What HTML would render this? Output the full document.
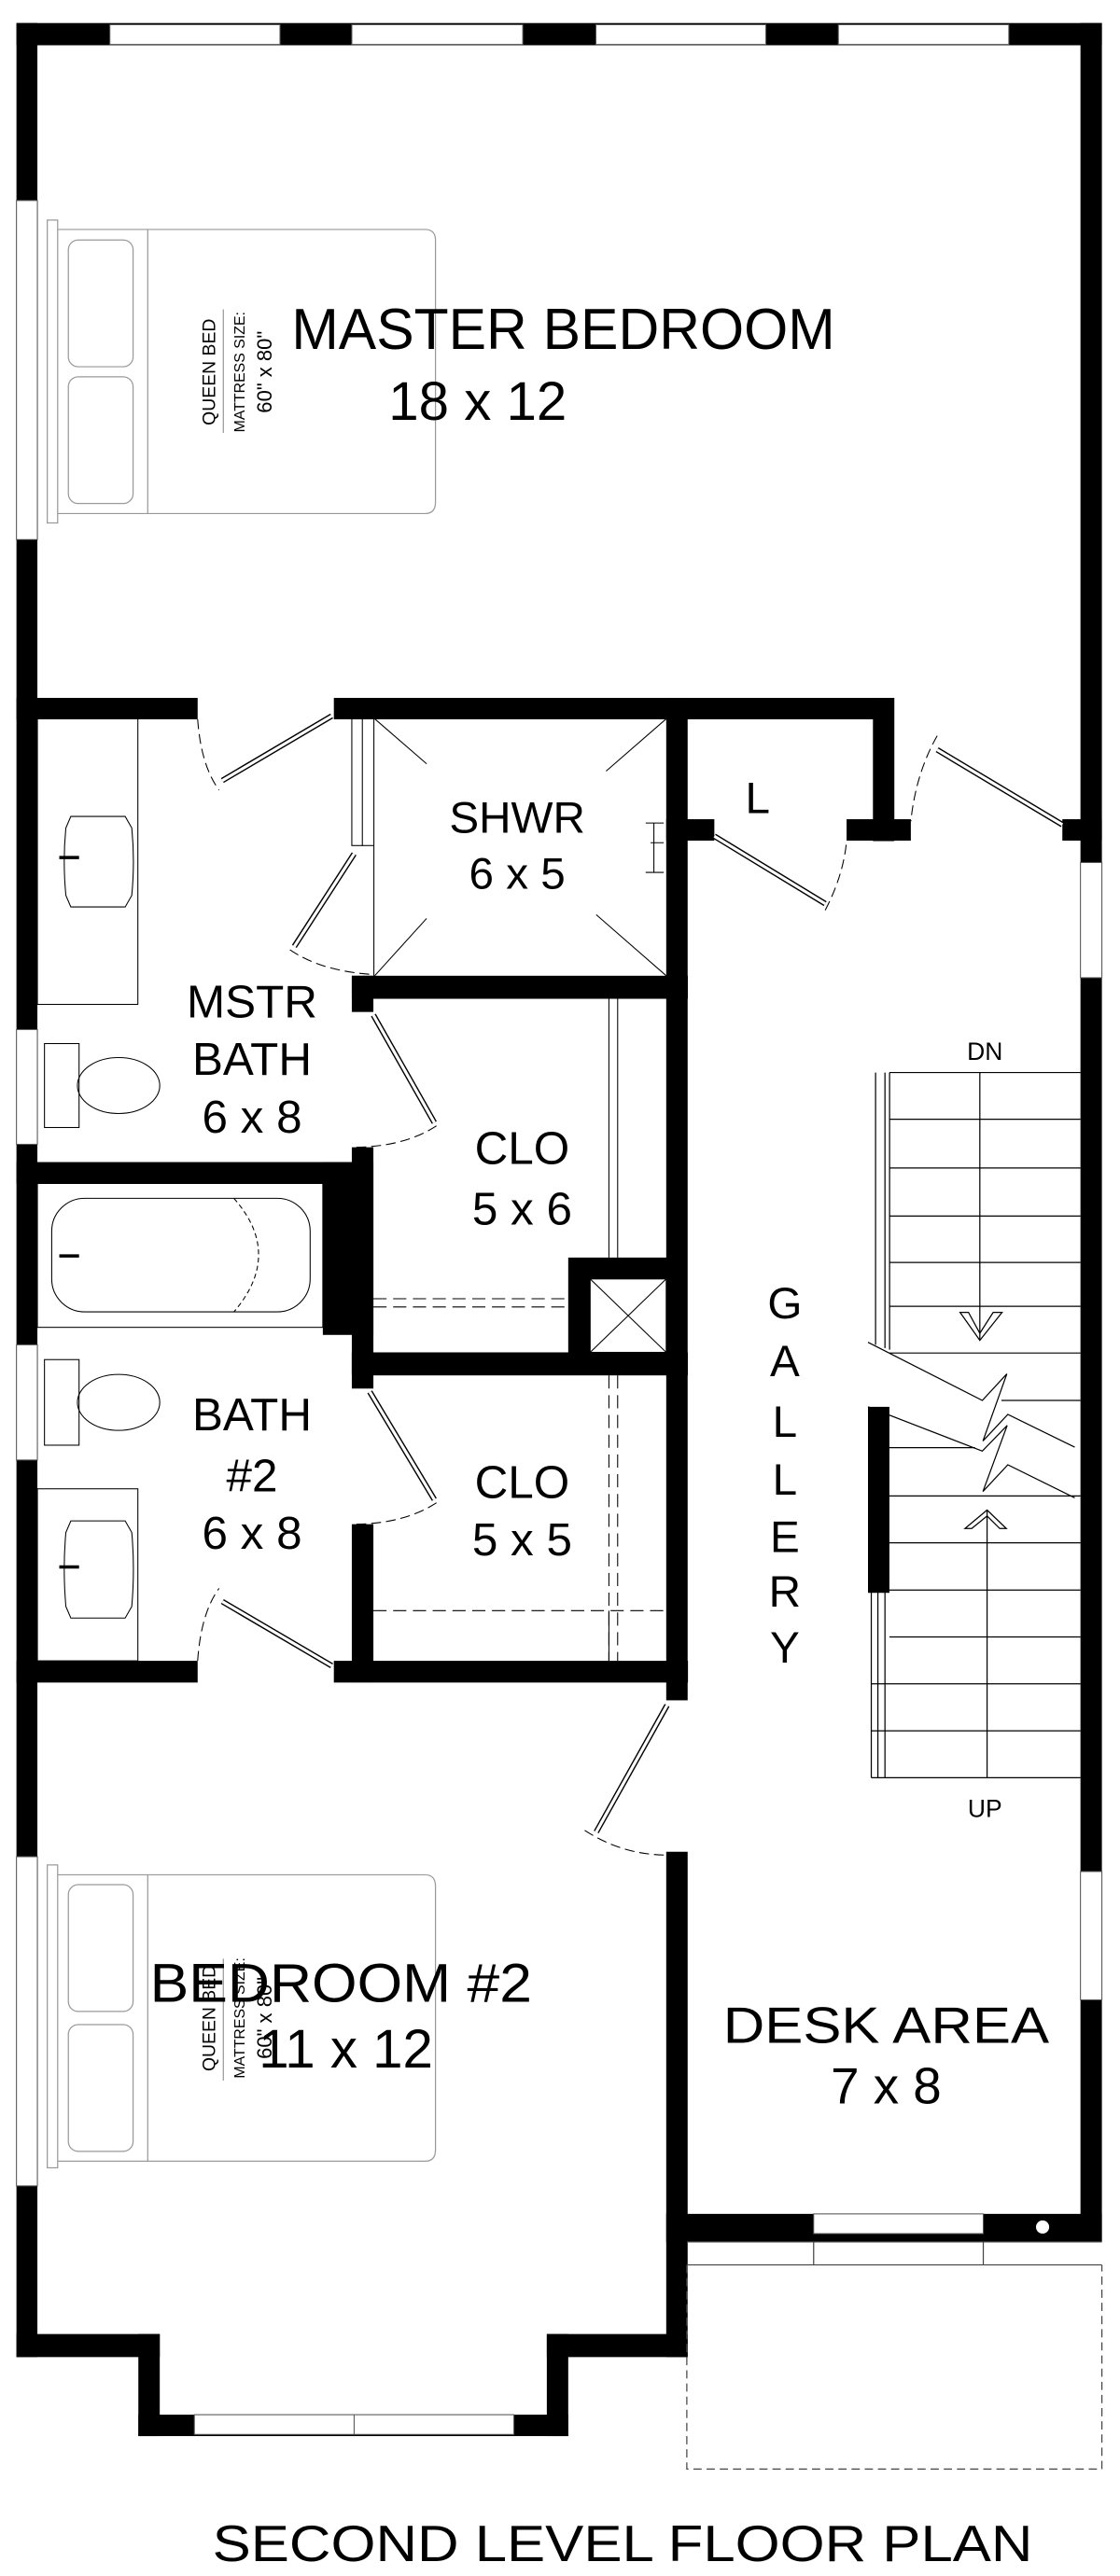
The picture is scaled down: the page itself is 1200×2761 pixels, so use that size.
<!DOCTYPE html>
<html><head><meta charset="utf-8"><style>
html,body{margin:0;padding:0;background:#fff;}
svg{display:block;}
text{font-family:"Liberation Sans",sans-serif;fill:#000;}
</style></head><body>
<svg width="1200" height="2761" viewBox="0 0 680 1565" preserveAspectRatio="none" xmlns="http://www.w3.org/2000/svg">
<rect width="680" height="1565" fill="#fff"/>
<g fill="#000">
<!-- top wall -->
<rect x="10" y="14" width="659" height="13.5"/>
<!-- left wall -->
<rect x="10" y="14" width="12.7" height="1418"/>
<!-- right wall -->
<rect x="656" y="14" width="13" height="1348"/>
<!-- master bottom walls -->
<rect x="10" y="424" width="110" height="13"/>
<rect x="202.7" y="424" width="340" height="13"/>
<rect x="530" y="424" width="13" height="87"/>
<rect x="514" y="497.7" width="39" height="13"/>
<rect x="645" y="497.7" width="24" height="13"/>
<rect x="404.5" y="424" width="13" height="609"/>
<rect x="404.5" y="497.7" width="29.2" height="13"/>
<!-- shower left stub / closet walls -->
<rect x="213.6" y="592.8" width="204" height="14"/>
<rect x="213.6" y="592.8" width="13.1" height="22"/>
<rect x="213.6" y="697" width="13.1" height="138"/>
<rect x="196" y="706" width="30.7" height="105"/>
<rect x="10" y="706" width="216" height="13.2"/>
<rect x="213.6" y="821.6" width="204" height="14"/>
<rect x="213.6" y="821.6" width="13.1" height="22"/>
<rect x="345" y="764" width="60" height="58"/>
<rect x="213.6" y="926" width="13.1" height="96"/>
<rect x="202.7" y="1009" width="215" height="13.2"/>
<rect x="10" y="1009" width="110" height="13.2"/>
<!-- stair walls -->
<rect x="527" y="854.7" width="13" height="113"/>
<!-- bedroom 2 -->
<rect x="404.5" y="1125" width="13" height="307"/>
<rect x="10" y="1418" width="87" height="14"/>
<rect x="84" y="1418" width="13" height="62"/>
<rect x="84" y="1467" width="261" height="13"/>
<rect x="332" y="1418" width="13" height="62"/>
<rect x="332" y="1418" width="85.5" height="14"/>
<!-- desk bottom wall -->
<rect x="404.5" y="1345" width="264.5" height="17"/>
</g>
<!-- windows (white gaps) -->
<g fill="#fff" stroke="#555" stroke-width="0.6">
<rect x="66.7" y="15" width="103.3" height="12"/>
<rect x="213.6" y="15" width="103.8" height="12"/>
<rect x="361.8" y="15" width="103.2" height="12"/>
<rect x="509" y="15" width="103.5" height="12"/>
<rect x="10" y="121.8" width="12.7" height="206"/>
<rect x="10" y="625.5" width="12.7" height="69.7"/>
<rect x="10" y="817" width="12.7" height="70"/>
<rect x="10" y="1128" width="12.7" height="200"/>
<rect x="656" y="524" width="13" height="70"/>
<rect x="656" y="1137" width="13" height="78"/>
<rect x="494" y="1345" width="103" height="12"/>
<rect x="118" y="1467" width="194" height="12"/>
</g>
<line x1="215" y1="1467" x2="215" y2="1479" stroke="#555" stroke-width="0.6"/>
<circle cx="633" cy="1353" r="4" fill="#fff"/>
<!-- porch -->
<g stroke="#444" stroke-width="0.7" fill="none">
<line x1="417" y1="1362" x2="669" y2="1362"/>
<line x1="417" y1="1376" x2="669" y2="1376"/>
<line x1="494" y1="1362" x2="494" y2="1376"/>
<line x1="597" y1="1362" x2="597" y2="1376"/>
<path d="M417 1376 V1500 H669 V1376" stroke-dasharray="5,3"/>
</g>
<!-- beds -->
<g stroke="#999" stroke-width="0.7" fill="none">
<rect x="28.7" y="133.7" width="6.3" height="184"/>
<path d="M35 139.4 H258 Q264.4 139.4 264.4 146 V305 Q264.4 312 258 312 H35"/>
<rect x="41.5" y="145.8" width="39.3" height="77" rx="6"/>
<rect x="41.5" y="228.9" width="39.3" height="77" rx="6"/>
<line x1="89.7" y1="139.4" x2="89.7" y2="312"/>
<line x1="135.6" y1="188" x2="135.6" y2="263"/>
<rect x="28.7" y="1133" width="6.3" height="184"/>
<path d="M35 1139 H258 Q264.4 1139 264.4 1146 V1306 Q264.4 1313 258 1313 H35"/>
<rect x="41.5" y="1145" width="39.3" height="77" rx="6"/>
<rect x="41.5" y="1230" width="39.3" height="77" rx="6"/>
<line x1="89.7" y1="1139" x2="89.7" y2="1313"/>
<line x1="135.6" y1="1190" x2="135.6" y2="1264"/>
</g>
<g fill="#999">
<text transform="translate(130.5,226) rotate(-90)" font-size="11" text-anchor="middle">QUEEN BED</text>
<text transform="translate(148.5,226) rotate(-90)" font-size="9" text-anchor="middle">MATTRESS SIZE:</text>
<text transform="translate(165,226) rotate(-90)" font-size="12.5" text-anchor="middle">60" x 80"</text>
<text transform="translate(130.5,1226) rotate(-90)" font-size="11" text-anchor="middle">QUEEN BED</text>
<text transform="translate(148.5,1226) rotate(-90)" font-size="9" text-anchor="middle">MATTRESS SIZE:</text>
<text transform="translate(165,1226) rotate(-90)" font-size="12.5" text-anchor="middle">60" x 80"</text>
</g>
<!-- fixtures -->
<g stroke="#000" stroke-width="0.6" fill="none">
<rect x="22.7" y="436.7" width="61" height="173.5"/>
<path d="M43 496 H76 L80 503 Q82 523 80 544 L76 551 H43 L40 544 Q38 523 40 503 Z"/>
<rect x="22.7" y="904.5" width="61" height="104.5"/>
<path d="M43 924 H76 L80 931 Q82 953 80 976 L76 983 H43 L40 976 Q38 953 40 931 Z"/>
<rect x="27" y="634" width="21" height="51"/>
<ellipse cx="72" cy="659.5" rx="25" ry="17"/>
<rect x="27" y="826" width="21" height="52"/>
<ellipse cx="72" cy="852" rx="25" ry="17"/>
<rect x="22.7" y="719" width="173.3" height="87.4"/>
<rect x="31.4" y="728" width="156.9" height="69" rx="20"/>
<path d="M142 728 Q172 762 142 797" stroke-dasharray="3,2"/>
<line x1="36" y1="521" x2="48" y2="521" stroke-width="2"/>
<line x1="36" y1="952" x2="48" y2="952" stroke-width="2"/>
<line x1="36" y1="763" x2="48" y2="763" stroke-width="2"/>
<!-- shower -->
<rect x="213.6" y="436.7" width="13.4" height="77" />
<line x1="220" y1="436.7" x2="220" y2="514"/>
<line x1="227.5" y1="436.7" x2="259" y2="464"/>
<line x1="404.5" y1="436.7" x2="368" y2="468.5"/>
<line x1="227.5" y1="592.8" x2="259" y2="558"/>
<line x1="404.5" y1="592.8" x2="362" y2="555.7"/>
<line x1="227" y1="514" x2="227" y2="592.8"/>
<path d="M392 500 H403 M397 500 V530 M392 530 H403 M395 512 H403" />
<!-- closet dashed -->
<path d="M369.7 606.7 V764 M375 606.7 V764" />
<path d="M226.7 789 H345 M226.7 794 H345" stroke-dasharray="8,4"/>
<path d="M369.7 835.6 V1009 M375 835.6 V1009" stroke-dasharray="8,4"/>
<path d="M226.7 978.5 H404.5" stroke-dasharray="8,4"/>
<path d="M369.7 978.5 V1009" />
</g>
<rect x="358.3" y="777" width="46.2" height="44.6" fill="#fff" stroke="#000" stroke-width="0.6"/>
<path d="M358.3 777 L404.5 821.6 M404.5 777 L358.3 821.6" stroke="#000" stroke-width="0.6"/>
<!-- doors -->
<g stroke="#000" stroke-linecap="butt">
<g stroke-width="3.4">
<line x1="201.4" y1="435" x2="135" y2="474.2"/>
<line x1="215" y1="518.7" x2="178.7" y2="575"/>
<line x1="226.7" y1="616.7" x2="263.7" y2="682"/>
<line x1="224.5" y1="845.6" x2="263.7" y2="911"/>
<line x1="201.4" y1="1012" x2="135" y2="973"/>
<line x1="569" y1="455.5" x2="645" y2="501"/>
<line x1="433.7" y1="508" x2="501" y2="549"/>
<line x1="405" y1="1036" x2="362" y2="1113"/>
</g>
<g stroke="#fff" stroke-width="1.8">
<line x1="201.4" y1="435" x2="135" y2="474.2"/>
<line x1="215" y1="518.7" x2="178.7" y2="575"/>
<line x1="226.7" y1="616.7" x2="263.7" y2="682"/>
<line x1="224.5" y1="845.6" x2="263.7" y2="911"/>
<line x1="201.4" y1="1012" x2="135" y2="973"/>
<line x1="569" y1="455.5" x2="645" y2="501"/>
<line x1="433.7" y1="508" x2="501" y2="549"/>
<line x1="405" y1="1036" x2="362" y2="1113"/>
</g>
</g>
<g stroke="#000" stroke-width="0.6" fill="none" stroke-dasharray="6,3">
<path d="M120 437 Q122 465 133 480"/>
<path d="M176 577 Q195 590 226 592"/>
<path d="M265 684 Q245 697 214 697"/>
<path d="M265 913 Q245 926 214 926"/>
<path d="M120 1009 Q122 980 133 965"/>
<path d="M569 447 Q556 470 553 499"/>
<path d="M501 553 Q512 532 514 511"/>
<path d="M355 1112 Q378 1127 405 1127"/>
</g>
<!-- stairs -->
<g stroke="#000" stroke-width="0.7" fill="none">
<line x1="531.6" y1="651.6" x2="531.6" y2="817"/>
<line x1="537.3" y1="651.6" x2="537.3" y2="819"/>
<line x1="540.1" y1="651.6" x2="540.1" y2="820"/>
<line x1="540" y1="651.6" x2="656" y2="651.6"/>
<line x1="540" y1="680" x2="656" y2="680"/>
<line x1="540" y1="709.6" x2="656" y2="709.6"/>
<line x1="540" y1="738.8" x2="656" y2="738.8"/>
<line x1="540" y1="767" x2="656" y2="767"/>
<line x1="540" y1="793.6" x2="656" y2="793.6"/>
<line x1="540" y1="822" x2="656" y2="822"/>
<line x1="608" y1="850.8" x2="656" y2="850.8"/>
<line x1="540" y1="879.5" x2="592" y2="879.5"/>
<line x1="540" y1="908.8" x2="656" y2="908.8"/>
<line x1="540" y1="937.3" x2="656" y2="937.3"/>
<line x1="540" y1="966" x2="656" y2="966"/>
<line x1="540" y1="994.5" x2="656" y2="994.5"/>
<line x1="529" y1="1023" x2="656" y2="1023"/>
<line x1="529" y1="1051.5" x2="656" y2="1051.5"/>
<line x1="529" y1="1080" x2="656" y2="1080"/>
<line x1="529" y1="967" x2="529" y2="1080"/>
<line x1="533" y1="967" x2="533" y2="1080"/>
<line x1="537.3" y1="967" x2="537.3" y2="1080"/>
<line x1="594.9" y1="651.6" x2="594.9" y2="814.3"/>
<line x1="599.3" y1="917.4" x2="599.3" y2="1080"/>
<path d="M527 815.5 L596.4 850.8 L611.3 834.7 L596.8 875.4 L611.9 859.3 L652.5 879.2"/>
<path d="M527 854.7 L596.4 881.6 L611.5 866 L596.8 906.1 L611.9 889.9 L652.5 910"/>
<path d="M582.9 797.3 L594.9 814.3 L608.4 797.3 L603 797.3 L594.9 810 L588 797.3 Z"/>
<path d="M585.9 928.6 L599.3 917.4 L611 928.6 L607 928.6 L599.3 921 L590 928.6 Z"/>
</g>
<!-- labels -->
<text x="342" y="212" font-size="35" text-anchor="middle" textLength="330" lengthAdjust="spacingAndGlyphs">MASTER BEDROOM</text>
<text x="290" y="255" font-size="33" text-anchor="middle">18 x 12</text>
<text x="314" y="506" font-size="27" text-anchor="middle">SHWR</text>
<text x="314" y="540" font-size="27" text-anchor="middle">6 x 5</text>
<text x="460" y="494" font-size="27" text-anchor="middle">L</text>
<text x="153" y="618" font-size="28" text-anchor="middle">MSTR</text>
<text x="153" y="653" font-size="28" text-anchor="middle">BATH</text>
<text x="153" y="688" font-size="28" text-anchor="middle">6 x 8</text>
<text x="317" y="707" font-size="28" text-anchor="middle">CLO</text>
<text x="317" y="744" font-size="28" text-anchor="middle">5 x 6</text>
<text x="153" y="869" font-size="28" text-anchor="middle">BATH</text>
<text x="153" y="906" font-size="28" text-anchor="middle">#2</text>
<text x="153" y="941" font-size="28" text-anchor="middle">6 x 8</text>
<text x="317" y="910" font-size="28" text-anchor="middle">CLO</text>
<text x="317" y="945" font-size="28" text-anchor="middle">5 x 5</text>
<g font-size="27" text-anchor="middle">
<text x="476.5" y="801">G</text>
<text x="476.5" y="836">A</text>
<text x="476.5" y="873">L</text>
<text x="476.5" y="908">L</text>
<text x="476.5" y="943">E</text>
<text x="476.5" y="976">R</text>
<text x="476.5" y="1010">Y</text>
</g>
<text x="598" y="644" font-size="15" text-anchor="middle">DN</text>
<text x="598" y="1104" font-size="15" text-anchor="middle">UP</text>
<text x="207" y="1216" font-size="33" text-anchor="middle" textLength="232" lengthAdjust="spacingAndGlyphs">BEDROOM #2</text>
<text x="210" y="1256" font-size="33" text-anchor="middle">11 x 12</text>
<text x="538" y="1241" font-size="31" text-anchor="middle" textLength="198" lengthAdjust="spacingAndGlyphs">DESK AREA</text>
<text x="538" y="1278" font-size="31" text-anchor="middle">7 x 8</text>
<text x="378" y="1556" font-size="31" text-anchor="middle" textLength="498" lengthAdjust="spacingAndGlyphs">SECOND LEVEL FLOOR PLAN</text>
</svg>
</body></html>
